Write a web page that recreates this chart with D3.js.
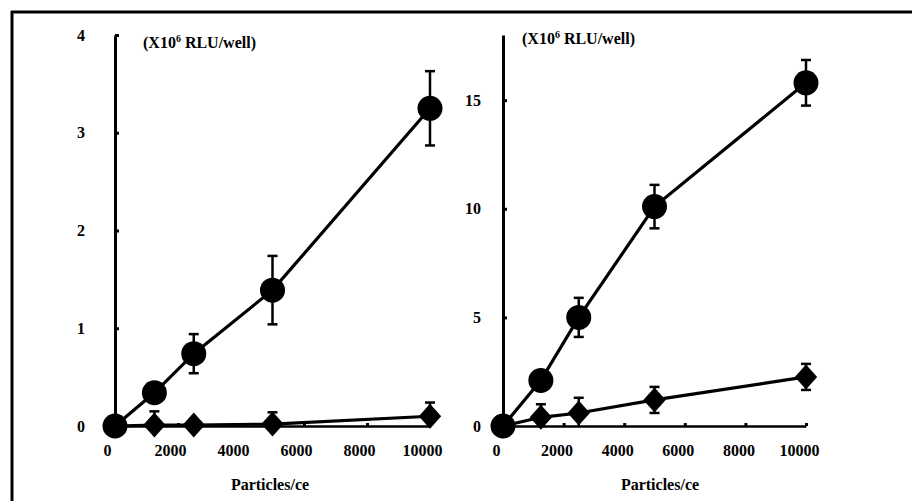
<!DOCTYPE html>
<html>
<head>
<meta charset="utf-8">
<script src="https://cdn.jsdelivr.net/npm/d3@7"></script>
<style>
  html, body { margin: 0; padding: 0; background: #fff; }
  svg { display: block; }
  text { font-family: "Liberation Serif", "Times New Roman", serif; font-weight: bold; fill: #000; }
</style>
</head>
<body>
<svg id="chart" width="912" height="501"></svg>
<script>
// ---- data ----
const xValues = [0, 1250, 2500, 5000, 10000];
const xTicks = [0, 2000, 4000, 6000, 8000, 10000];

const leftYTicks = [0, 1, 2, 3, 4];
const leftCircle = [0, 0.34, 0.74, 1.39, 3.25];
const leftCircleErr = [0, 0, 0.2, 0.35, 0.38];
const leftDiamond = [0, 0.01, 0.01, 0.02, 0.10];
const leftDiamondErr = [0, 0.14, 0, 0.12, 0.14];

const rightYTicks = [0, 5, 10, 15];
const rightCircle = [0, 2.1, 5.0, 10.1, 15.8];
const rightCircleErr = [0, 0, 0.9, 1.0, 1.05];
const rightDiamond = [0, 0.4, 0.6, 1.2, 2.26];
const rightDiamondErr = [0, 0.6, 0.7, 0.6, 0.6];

const unitLabel = "RLU/well)";
const xLabel = "Particles/ce";

// ---- drawing ----
const svg = d3.select("#chart");

// outer frame (top and left edges visible)
svg.append("line").attr("x1", 11).attr("y1", 12).attr("x2", 912).attr("y2", 12)
  .attr("stroke", "#000").attr("stroke-width", 3);
svg.append("line").attr("x1", 12).attr("y1", 11).attr("x2", 12).attr("y2", 501)
  .attr("stroke", "#000").attr("stroke-width", 3);

function panel(cfg) {
  const x = d3.scaleLinear().domain([0, 10000]).range(cfg.xRange);
  const y = d3.scaleLinear().domain(cfg.yDomain).range([426, 35]);
  const g = svg.append("g");

  // y axis
  const ya = g.append("g").attr("transform", `translate(${x(0)},0)`)
    .call(d3.axisLeft(y).tickValues(cfg.yTicks).tickSizeInner(-4).tickSizeOuter(0)
      .tickPadding(cfg.yPad).tickFormat(d3.format("d")));
  ya.select(".domain").attr("stroke-width", 3);
  ya.selectAll(".tick line").attr("stroke-width", 3);
  ya.selectAll("text").style("font-size", "16px").style("font-family", "Liberation Serif").style("font-weight", "bold");

  // x axis
  const xa = g.append("g").attr("transform", `translate(0,${y(0)})`)
    .call(d3.axisBottom(x).tickValues(xTicks).tickSizeInner(-3).tickSizeOuter(0)
      .tickPadding(19).tickFormat(d3.format("d")));
  xa.select(".domain").attr("stroke-width", 2.5);
  xa.selectAll(".tick line").attr("stroke-width", 3);
  xa.selectAll("text").attr("dx", cfg.xdx).style("font-size", "16px")
    .style("font-family", "Liberation Serif").style("font-weight", "bold");

  // unit label
  const t = g.append("text").attr("x", cfg.unitX).attr("y", cfg.unitY).style("font-size", "16px");
  t.append("tspan").text("(X10");
  t.append("tspan").attr("dy", -6).style("font-size", "10px").text("6");
  t.append("tspan").attr("dy", 6).text(" " + unitLabel);

  // x label
  g.append("text").attr("x", cfg.xLabelX).attr("y", 490).attr("text-anchor", "middle")
    .style("font-size", "16px").text(xLabel);

  const line = d3.line().x((d, i) => x(xValues[i])).y(d => y(d));

  function series(vals, errs, shape) {
    g.append("path").datum(vals).attr("d", line).attr("fill", "none")
      .attr("stroke", "#000").attr("stroke-width", 3.2);
    const eb = g.append("g");
    vals.forEach((v, i) => {
      const e = errs[i];
      if (!e) return;
      const cx = x(xValues[i]);
      eb.append("line").attr("x1", cx).attr("x2", cx).attr("y1", y(v + e)).attr("y2", y(Math.max(v - e, 0)))
        .attr("stroke", "#000").attr("stroke-width", 2.5);
      [v + e, v - e].forEach(ev => {
        if (ev < 0) return;
        eb.append("line").attr("x1", cx - 5).attr("x2", cx + 5).attr("y1", y(ev)).attr("y2", y(ev))
          .attr("stroke", "#000").attr("stroke-width", 2.5);
      });
    });
    const sym = shape === "circle"
      ? d3.symbol().type(d3.symbolCircle).size(Math.PI * 12.5 * 12.5)
      : d3.symbol().type(d3.symbolDiamond).size(180);
    g.append("g").selectAll("path").data(vals).join("path")
      .attr("transform", (d, i) => `translate(${x(xValues[i])},${y(d)})` + (shape === "circle" ? "" : " scale(1.55,1)"))
      .attr("d", sym).attr("fill", "#000");
  }

  series(cfg.diamond, cfg.diamondErr, "diamond");
  series(cfg.circle, cfg.circleErr, "circle");
}

panel({
  xRange: [115, 430], yDomain: [0, 4], yTicks: leftYTicks, yPad: 30, xdx: -8,
  unitX: 143, unitY: 48, xLabelX: 270,
  circle: leftCircle, circleErr: leftCircleErr,
  diamond: leftDiamond, diamondErr: leftDiamondErr
});

panel({
  xRange: [503, 806], yDomain: [0, 18], yTicks: rightYTicks, yPad: 22, xdx: -7,
  unitX: 522, unitY: 44, xLabelX: 660,
  circle: rightCircle, circleErr: rightCircleErr,
  diamond: rightDiamond, diamondErr: rightDiamondErr
});
</script>
</body>
</html>
